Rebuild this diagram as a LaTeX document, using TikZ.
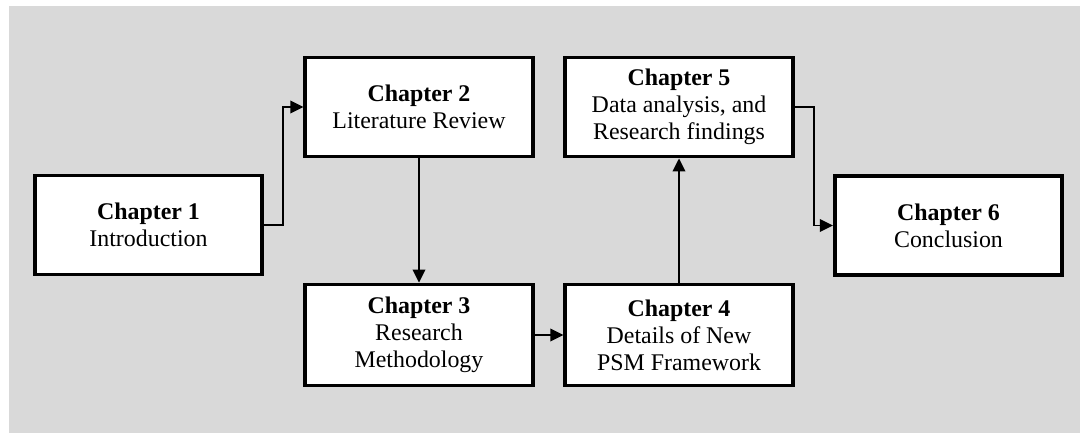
\documentclass[tikz,border=0pt]{standalone}
\usepackage{fontspec}
\setmainfont{Liberation Serif}
\usetikzlibrary{arrows.meta}
\definecolor{bgGray}{RGB}{217,217,217}
\tikzset{
  chapbox/.style={draw, line width=2.2pt, fill=white, minimum width=4.55cm,
    minimum height=1.98cm, align=center, inner sep=2pt,
    font=\fontsize{13.6}{15.4}\selectfont},
  arr/.style={line width=1.1pt, -{Triangle[length=0.26cm,width=0.25cm]}}
}
\begin{document}
\begin{tikzpicture}[x=0.02cm, y=-0.02cm]
  \useasboundingbox (0,0) rectangle (1080,433);
  \fill[bgGray] (9,6) rectangle (1080,433);
  % chapters
  \node[chapbox] (ch1) at (148.5,225) {\textbf{Chapter 1}\\Introduction};
  \node[chapbox] (ch2) at (419,107) {\textbf{Chapter 2}\\Literature Review};
  \node[chapbox, minimum height=2.02cm] (ch3) at (419,335) {\textbf{Chapter 3}\\Research\\Methodology};
  \node[chapbox, minimum height=2.02cm] (ch4) at (679,335) {\textbf{Chapter 4}\\Details of New\\PSM Framework};
  \node[chapbox] (ch5) at (679,107) {\textbf{Chapter 5}\\Data analysis, and\\Research findings};
  \node[chapbox] (ch6) at (948.5,225.5) {\textbf{Chapter 6}\\Conclusion};
  % flow
  \draw[arr] (ch1.east) -- ++(19,0) |- (ch2.west);
  \draw[arr] (ch2) -- (ch3);
  \draw[arr] (ch3) -- (ch4);
  \draw[arr] (ch4) -- (ch5);
  \draw[arr] (ch5.east) -- ++(19,0) |- (ch6.west);
\end{tikzpicture}
\end{document}
